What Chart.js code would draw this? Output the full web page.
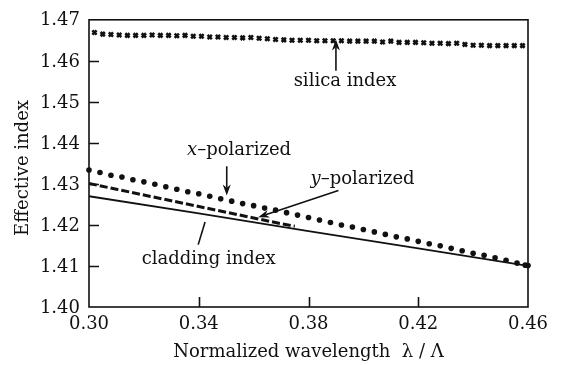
<!DOCTYPE html>
<html>
<head>
<meta charset="utf-8">
<script src="https://cdn.jsdelivr.net/npm/chart.js@4.4.1/dist/chart.umd.min.js"></script>
<style>
    html, body { margin: 0; padding: 0; background: #fff; }
</style>
</head>
<body>
<canvas id="chart" width="561" height="365"></canvas>
<script>
/* effective index vs normalized wavelength */

const silicaX = [0.302, 0.305, 0.308, 0.311, 0.314, 0.317, 0.320, 0.323, 0.326, 0.329,
    0.332, 0.335, 0.338, 0.341, 0.344, 0.347, 0.350, 0.353, 0.356, 0.359,
    0.362, 0.365, 0.368, 0.371, 0.374, 0.377, 0.380, 0.383, 0.386, 0.389,
    0.392, 0.395, 0.398, 0.401, 0.404, 0.407, 0.410, 0.413, 0.416, 0.419,
    0.422, 0.425, 0.428, 0.431, 0.434, 0.437, 0.440, 0.443, 0.446, 0.449,
    0.452, 0.455, 0.458];
const silicaY = [1.4669, 1.4665, 1.4664, 1.4663, 1.4662, 1.4662, 1.4662, 1.4663, 1.4662, 1.4662,
    1.4661, 1.4662, 1.4660, 1.4660, 1.4658, 1.4658, 1.4657, 1.4657, 1.4656, 1.4657,
    1.4655, 1.4654, 1.4652, 1.4651, 1.4650, 1.4650, 1.4650, 1.4649, 1.4649, 1.4649,
    1.4649, 1.4648, 1.4648, 1.4648, 1.4648, 1.4646, 1.4648, 1.4645, 1.4645, 1.4645,
    1.4644, 1.4643, 1.4643, 1.4642, 1.4643, 1.4640, 1.4638, 1.4638, 1.4637, 1.4637,
    1.4637, 1.4637, 1.4637];

const xPolX = [0.300, 0.304, 0.308, 0.312, 0.316, 0.320, 0.324, 0.328, 0.332, 0.336,
    0.340, 0.344, 0.348, 0.352, 0.356, 0.360, 0.364, 0.368, 0.372, 0.376,
    0.380, 0.384, 0.388, 0.392, 0.396, 0.400, 0.404, 0.408, 0.412, 0.416,
    0.420, 0.424, 0.428, 0.432, 0.436, 0.440, 0.444, 0.448, 0.452, 0.456,
    0.459, 0.460];
const xPolY = [1.4334, 1.4328, 1.4321, 1.4317, 1.4310, 1.4305, 1.4299, 1.4293, 1.4287, 1.4281,
    1.4276, 1.4270, 1.4264, 1.4258, 1.4252, 1.4247, 1.4241, 1.4236, 1.4230, 1.4224,
    1.4218, 1.4212, 1.4206, 1.4200, 1.4195, 1.4189, 1.4183, 1.4177, 1.4171, 1.4166,
    1.4160, 1.4154, 1.4149, 1.4143, 1.4137, 1.4131, 1.4126, 1.4120, 1.4114, 1.4107,
    1.4102, 1.4101];

const yPolX = [0.300, 0.310, 0.320, 0.330, 0.340, 0.350, 0.360, 0.370, 0.375];
const yPolY = [1.4301, 1.4287, 1.4273, 1.4259, 1.4245, 1.4231, 1.4217, 1.4203, 1.4197];

const cladX = [0.30, 0.34, 0.38, 0.42, 0.46];
const cladY = [1.4270, 1.4228, 1.4185, 1.4143, 1.4100];

const xTicks = [0.30, 0.34, 0.38, 0.42, 0.46];
const yTicks = [1.40, 1.41, 1.42, 1.43, 1.44, 1.45, 1.46, 1.47];

const SERIF = '"DejaVu Serif", "Liberation Serif", serif';
const INK = '#111';

// labels and arrows, in data units
const NOTES = [
    { parts: [['silica index', false]], x: 0.3933, y: 1.4550 },
    { parts: [['x', true], ['\u2013polarized', false]], x: 0.3547, y: 1.4382 },
    { parts: [['y', true], ['\u2013polarized', false]], x: 0.3997, y: 1.4310 },
    { parts: [['cladding index', false]], x: 0.3436, y: 1.4116 },
];
const POINTERS = [
    { from: [0.3900, 1.4576], to: [0.3900, 1.4652], head: true },
    { from: [0.3502, 1.4343], to: [0.3502, 1.4272], head: true },
    { from: [0.3909, 1.4284], to: [0.3617, 1.4219], head: true },
    { from: [0.3423, 1.4207], to: [0.3398, 1.4152], head: false },
];

const zip = (xs, ys) => xs.map((x, i) => ({ x, y: ys[i] }));

const framePlugin = {
    id: 'frame',
    afterDatasetsDraw(chart) {
        const { ctx, chartArea: a, scales: { x, y } } = chart;
        ctx.save();
        ctx.strokeStyle = INK;
        ctx.lineWidth = 1.6;
        ctx.strokeRect(a.left, a.top, a.right - a.left, a.bottom - a.top);

        // inward ticks on left and bottom
        ctx.beginPath();
        yTicks.slice(1, -1).forEach(v => {
            const py = Math.round(y.getPixelForValue(v)) + 0.5;
            ctx.moveTo(a.left, py);
            ctx.lineTo(a.left + 10, py);
        });
        xTicks.slice(1, -1).forEach(v => {
            const px = Math.round(x.getPixelForValue(v)) + 0.5;
            ctx.moveTo(px, a.bottom);
            ctx.lineTo(px, a.bottom - 10);
        });
        ctx.stroke();

        // y axis title
        ctx.fillStyle = INK;
        ctx.font = '18px ' + SERIF;
        ctx.textAlign = 'center';
        ctx.textBaseline = 'middle';
        ctx.save();
        ctx.translate(23, 168);
        ctx.rotate(-Math.PI / 2);
        ctx.fillText('Effective index', 0, 0);
        ctx.restore();

        // annotation text
        NOTES.forEach(n => {
            const fonts = n.parts.map(p => (p[1] ? 'italic ' : '') + '18px ' + SERIF);
            const widths = n.parts.map((p, i) => { ctx.font = fonts[i]; return ctx.measureText(p[0]).width; });
            const total = widths.reduce((s, w) => s + w, 0);
            let cx = x.getPixelForValue(n.x) - total / 2;
            const cy = y.getPixelForValue(n.y);
            ctx.textAlign = 'left';
            n.parts.forEach((p, i) => {
                ctx.font = fonts[i];
                ctx.fillText(p[0], cx, cy);
                cx += widths[i];
            });
        });

        // pointers
        ctx.lineWidth = 1.6;
        POINTERS.forEach(p => {
            const x0 = x.getPixelForValue(p.from[0]), y0 = y.getPixelForValue(p.from[1]);
            const x1 = x.getPixelForValue(p.to[0]), y1 = y.getPixelForValue(p.to[1]);
            const ang = Math.atan2(y1 - y0, x1 - x0);
            const hl = p.head ? 11 : 0, hw = 4;
            ctx.beginPath();
            ctx.moveTo(x0, y0);
            ctx.lineTo(x1 - Math.cos(ang) * hl * 0.7, y1 - Math.sin(ang) * hl * 0.7);
            ctx.stroke();
            if (p.head) {
                const bx = x1 - Math.cos(ang) * hl, by = y1 - Math.sin(ang) * hl;
                ctx.beginPath();
                ctx.moveTo(x1, y1);
                ctx.lineTo(bx + Math.sin(ang) * hw, by - Math.cos(ang) * hw);
                ctx.lineTo(x1 - Math.cos(ang) * hl * 0.7, y1 - Math.sin(ang) * hl * 0.7);
                ctx.lineTo(bx - Math.sin(ang) * hw, by + Math.cos(ang) * hw);
                ctx.closePath();
                ctx.fill();
            }
        });
        ctx.restore();
    },
};

new Chart(document.getElementById('chart'), {
    type: 'scatter',
    data: {
        datasets: [
            {
                label: 'silica index',
                data: zip(silicaX, silicaY),
                pointStyle: 'crossRot',
                pointRadius: 3,
                borderColor: INK,
                borderWidth: 2.6,
                clip: false,
            },
            {
                label: 'x-polarized',
                data: zip(xPolX, xPolY),
                pointStyle: 'circle',
                pointRadius: 2.8,
                backgroundColor: INK,
                borderWidth: 0,
                clip: false,
            },
            {
                label: 'y-polarized',
                data: zip(yPolX, yPolY),
                showLine: true,
                pointRadius: 0,
                borderColor: INK,
                borderWidth: 3,
                borderDash: [8, 3],
            },
            {
                label: 'cladding index',
                data: zip(cladX, cladY),
                showLine: true,
                pointRadius: 0,
                borderColor: INK,
                borderWidth: 1.8,
            },
        ],
    },
    options: {
        responsive: false,
        animation: false,
        layout: { padding: { left: 0, right: 33, top: 12, bottom: 0 } },
        plugins: { legend: { display: false }, tooltip: { enabled: false } },
        scales: {
            x: {
                type: 'linear',
                min: 0.30,
                max: 0.46,
                afterBuildTicks: s => { s.ticks = xTicks.map(v => ({ value: v })); },
                afterFit: s => { s.height = 58; },
                grid: { display: false, drawTicks: false },
                border: { display: false },
                ticks: {
                    color: INK,
                    padding: 7,
                    maxRotation: 0,
                    font: { family: SERIF, size: 18 },
                    callback: v => v.toFixed(2),
                },
                title: {
                    display: true,
                    text: 'Normalized wavelength  \u03bb / \u039b',
                    color: INK,
                    font: { family: SERIF, size: 18 },
                    padding: { top: 0, bottom: 2 },
                },
            },
            y: {
                min: 1.40,
                max: 1.47,
                afterBuildTicks: s => { s.ticks = yTicks.map(v => ({ value: v })); },
                afterFit: s => { s.width = 89; },
                grid: { display: false, drawTicks: false },
                border: { display: false },
                ticks: {
                    color: INK,
                    padding: 9,
                    labelOffset: 1,
                    font: { family: SERIF, size: 18 },
                    callback: v => v.toFixed(2),
                },
            },
        },
    },
    plugins: [framePlugin],
});
</script>
</body>
</html>
